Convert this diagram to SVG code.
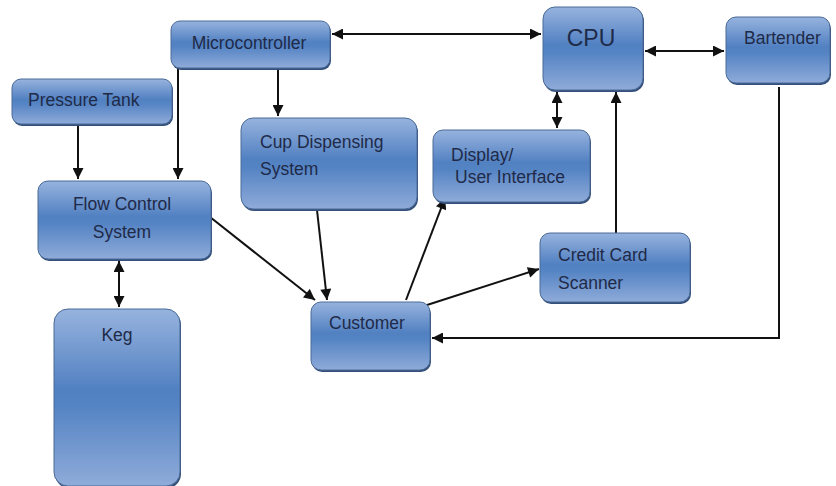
<svg xmlns="http://www.w3.org/2000/svg" width="836" height="486" viewBox="0 0 836 486">
<defs>
<linearGradient id="g" x1="0" y1="0" x2="0" y2="1">
<stop offset="0" stop-color="#97b3de"/>
<stop offset="0.45" stop-color="#5281c2"/>
<stop offset="0.55" stop-color="#5584c4"/>
<stop offset="1" stop-color="#8fabd9"/>
</linearGradient>
<marker id="a" viewBox="0 0 10 10" refX="10" refY="5" markerWidth="6" markerHeight="5.5" orient="auto-start-reverse" markerUnits="strokeWidth">
<path d="M0,0 L10,5 L0,10 z" fill="#111"/>
</marker>
</defs>
<style>
.box{fill:url(#g);stroke:#4a6a96;stroke-width:1}
.sh{fill:#34507a}
.t{font-family:"Liberation Sans",Arial,sans-serif;font-size:17.5px;fill:#1f2a48}
.c{stroke:#111;stroke-width:2;fill:none}
</style>
<rect width="836" height="486" fill="#fff"/>
<g id="connectors">
<line class="c" x1="332" y1="34" x2="541" y2="34" marker-start="url(#a)" marker-end="url(#a)"/>
<line class="c" x1="645" y1="51" x2="724" y2="51" marker-start="url(#a)" marker-end="url(#a)"/>
<line class="c" x1="557" y1="92" x2="557" y2="128" marker-start="url(#a)" marker-end="url(#a)"/>
<line class="c" x1="616" y1="233" x2="616" y2="92" marker-end="url(#a)"/>
<polyline class="c" points="779,87 779,338 432,338" marker-end="url(#a)"/>
<line class="c" x1="278" y1="69" x2="278" y2="116" marker-end="url(#a)"/>
<line class="c" x1="178" y1="69" x2="178" y2="179" marker-end="url(#a)"/>
<line class="c" x1="78" y1="125" x2="78" y2="179" marker-end="url(#a)"/>
<line class="c" x1="119" y1="261" x2="119" y2="307" marker-start="url(#a)" marker-end="url(#a)"/>
<line class="c" x1="210" y1="217" x2="315" y2="300" marker-end="url(#a)"/>
<line class="c" x1="317" y1="210" x2="327" y2="300" marker-end="url(#a)"/>
<line class="c" x1="406" y1="300" x2="445" y2="198" marker-end="url(#a)"/>
<line class="c" x1="427" y1="305" x2="539" y2="269" marker-end="url(#a)"/>
</g>
<g id="microcontroller">
<rect class="sh" x="172" y="23" width="159" height="47" rx="9"/>
<rect class="box" x="171" y="21" width="159" height="47" rx="9"/>
<text class="t" x="249" y="49" text-anchor="middle">Microcontroller</text>
</g>
<g id="pressure-tank">
<rect class="sh" x="13" y="81" width="160" height="45" rx="9"/>
<rect class="box" x="12" y="79" width="160" height="45" rx="9"/>
<text class="t" x="28" y="106">Pressure Tank</text>
</g>
<g id="flow-control">
<rect class="sh" x="39" y="183" width="173" height="78" rx="10"/>
<rect class="box" x="38" y="181" width="173" height="78" rx="10"/>
<text class="t" x="122" y="210" text-anchor="middle">Flow Control</text>
<text class="t" x="122" y="238" text-anchor="middle">System</text>
</g>
<g id="cup-dispensing">
<rect class="sh" x="242" y="120" width="176" height="91" rx="12"/>
<rect class="box" x="241" y="118" width="176" height="91" rx="12"/>
<text class="t" x="260" y="148">Cup Dispensing</text>
<text class="t" x="260" y="175">System</text>
</g>
<g id="keg">
<rect class="sh" x="55" y="311" width="126" height="177" rx="14"/>
<rect class="box" x="54" y="309" width="126" height="177" rx="14"/>
<text class="t" x="117" y="341" text-anchor="middle">Keg</text>
</g>
<g id="customer">
<rect class="sh" x="312" y="304" width="119" height="68" rx="10"/>
<rect class="box" x="311" y="302" width="119" height="68" rx="10"/>
<text class="t" x="329" y="329">Customer</text>
</g>
<g id="cpu">
<rect class="sh" x="544" y="9" width="100" height="83" rx="12"/>
<rect class="box" x="543" y="7" width="100" height="83" rx="12"/>
<text class="t" x="591" y="46" text-anchor="middle" style="font-size:23px">CPU</text>
</g>
<g id="bartender">
<rect class="sh" x="727" y="19" width="104" height="66" rx="10"/>
<rect class="box" x="726" y="17" width="104" height="66" rx="10"/>
<text class="t" x="744" y="44">Bartender</text>
</g>
<g id="display">
<rect class="sh" x="434" y="132" width="157" height="72" rx="10"/>
<rect class="box" x="433" y="130" width="157" height="72" rx="10"/>
<text class="t" x="451" y="161">Display/</text>
<text class="t" x="455" y="183">User Interface</text>
</g>
<g id="credit-card">
<rect class="sh" x="541" y="235" width="150" height="69" rx="10"/>
<rect class="box" x="540" y="233" width="150" height="69" rx="10"/>
<text class="t" x="558" y="261">Credit Card</text>
<text class="t" x="558" y="289">Scanner</text>
</g>
</svg>
